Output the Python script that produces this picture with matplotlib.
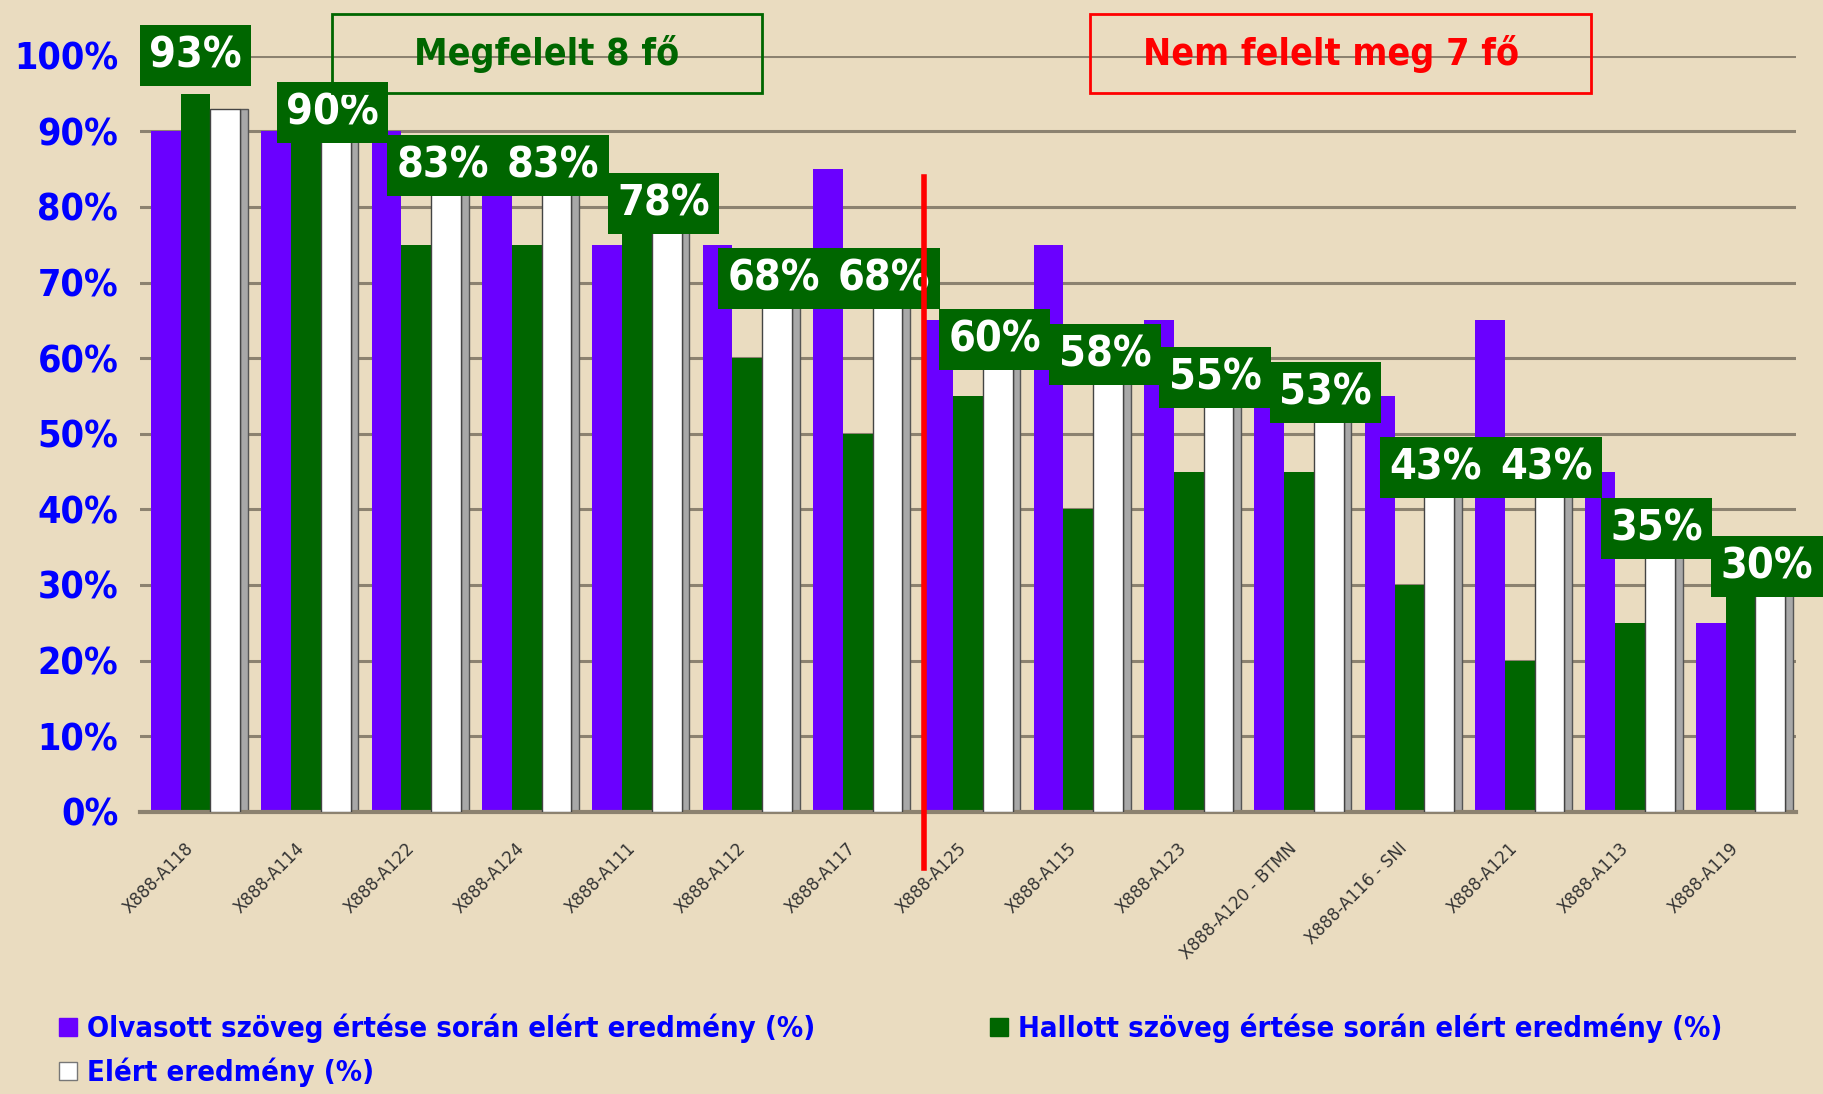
import numpy as np
import matplotlib.pyplot as plt
from matplotlib.patches import Rectangle, Patch

# Adatok
tanulok = ["X888-A118", "X888-A114", "X888-A122", "X888-A124", "X888-A111",
           "X888-A112", "X888-A117", "X888-A125", "X888-A115", "X888-A123",
           "X888-A120 - BTMN", "X888-A116 - SNI", "X888-A121", "X888-A113", "X888-A119"]
olvasott = [90, 90, 90, 85, 75, 75, 85, 65, 75, 65, 55, 55, 65, 45, 25]
hallott = [95, 90, 75, 75, 80, 60, 50, 55, 40, 45, 45, 30, 20, 25, 30]
elert = [93, 90, 83, 83, 78, 68, 68, 60, 58, 55, 53, 43, 43, 35, 30]

bg = "#EADCC0"
lila = "#6A00FF"
zold = "#006600"
kek = "#0000FF"
csalad = "DejaVu Sans"

fig = plt.figure(figsize=(18.23, 10.94), dpi=100, facecolor=bg)
ax = fig.add_axes([0.077, 0.258, 0.908, 0.691])
ax.set_facecolor(bg)

x = np.arange(len(tanulok))
w = 0.27

ax.bar(x - w, olvasott, width=w, color=lila, zorder=2)
ax.bar(x, hallott, width=w, color=zold, zorder=2)
ax.bar(x + w, elert, width=w, color="white", edgecolor="#444444", linewidth=1, zorder=3)
# a fehér oszlop szürke oldala
ax.bar(x + w + w / 2 + 0.035, elert, width=0.07, color="#A8A8A8", edgecolor="#555555",
       linewidth=1, zorder=2)

# feliratok zöld dobozban
for i, v in enumerate(elert):
    if i == 0:
        tx, ty = x[i], v + 7
    else:
        tx, ty = x[i] + 0.24, v + 2.5
    ax.text(tx, ty, f"{v}%", ha="center", va="center", color="white", fontsize=31,
            fontweight="bold", family=csalad, fontstretch="condensed", zorder=5, clip_on=False,
            bbox=dict(boxstyle="square,pad=0.22", facecolor=zold, edgecolor="none"))

# piros elválasztó vonal
ax.plot([6.6, 6.6], [84, -7.5], color="#FF0000", lw=4, zorder=6, clip_on=False)

ax.set_xlim(-0.5, 14.5)
ax.set_ylim(0, 100)
ax.set_yticks(np.arange(0, 101, 10))
ax.set_yticklabels([f"{t}%" for t in range(0, 101, 10)])
ax.grid(axis="y", color="#8C8270", lw=2.2, zorder=0)
ax.set_axisbelow(True)
for s in ["top", "right", "left"]:
    ax.spines[s].set_visible(False)
ax.spines["bottom"].set_color("#8C8270")
ax.spines["bottom"].set_linewidth(3)

ax.tick_params(axis="y", length=0, pad=16, labelsize=27, labelcolor=kek)
for lab in ax.get_yticklabels():
    lab.set_fontweight("bold")
    lab.set_fontstretch("condensed")
ax.set_xticks(x - 0.1)
ax.set_xticklabels(tanulok, rotation=45, ha="right", rotation_mode="anchor",
                   fontsize=12, color="#333333")
ax.tick_params(axis="x", length=0, pad=20)

# felső dobozok
fig.patches.append(Rectangle((0.182, 0.915), 0.236, 0.072, transform=fig.transFigure,
                             fill=False, edgecolor=zold, lw=2))
fig.text(0.300, 0.951, "Megfelelt 8 fő", ha="center", va="center", color=zold,
         fontsize=27, fontweight="bold", fontstretch="condensed")
fig.patches.append(Rectangle((0.598, 0.915), 0.275, 0.072, transform=fig.transFigure,
                             fill=False, edgecolor="#FF0000", lw=2))
fig.text(0.730, 0.951, "Nem felelt meg 7 fő", ha="center", va="center", color="#FF0000",
         fontsize=27, fontweight="bold", fontstretch="condensed")

# jelmagyarázat
kezelok = [Patch(facecolor=lila, edgecolor=lila),
           Patch(facecolor="white", edgecolor="#777777"),
           Patch(facecolor=zold, edgecolor=zold)]
cimkek = ["Olvasott szöveg értése során elért eredmény (%)",
          "Elért eredmény (%)",
          "Hallott szöveg értése során elért eredmény (%)"]
leg = fig.legend(kezelok, cimkek, loc="lower left", bbox_to_anchor=(0.018, -0.018), ncol=2,
                 frameon=False, handlelength=0.6, handleheight=0.6, handletextpad=0.35,
                 columnspacing=6.0, labelspacing=0.5,
                 prop=dict(size=21, weight="bold", stretch="condensed"))
for t in leg.get_texts():
    t.set_color(kek)

fig.savefig("out.png", dpi=100, facecolor=bg)
